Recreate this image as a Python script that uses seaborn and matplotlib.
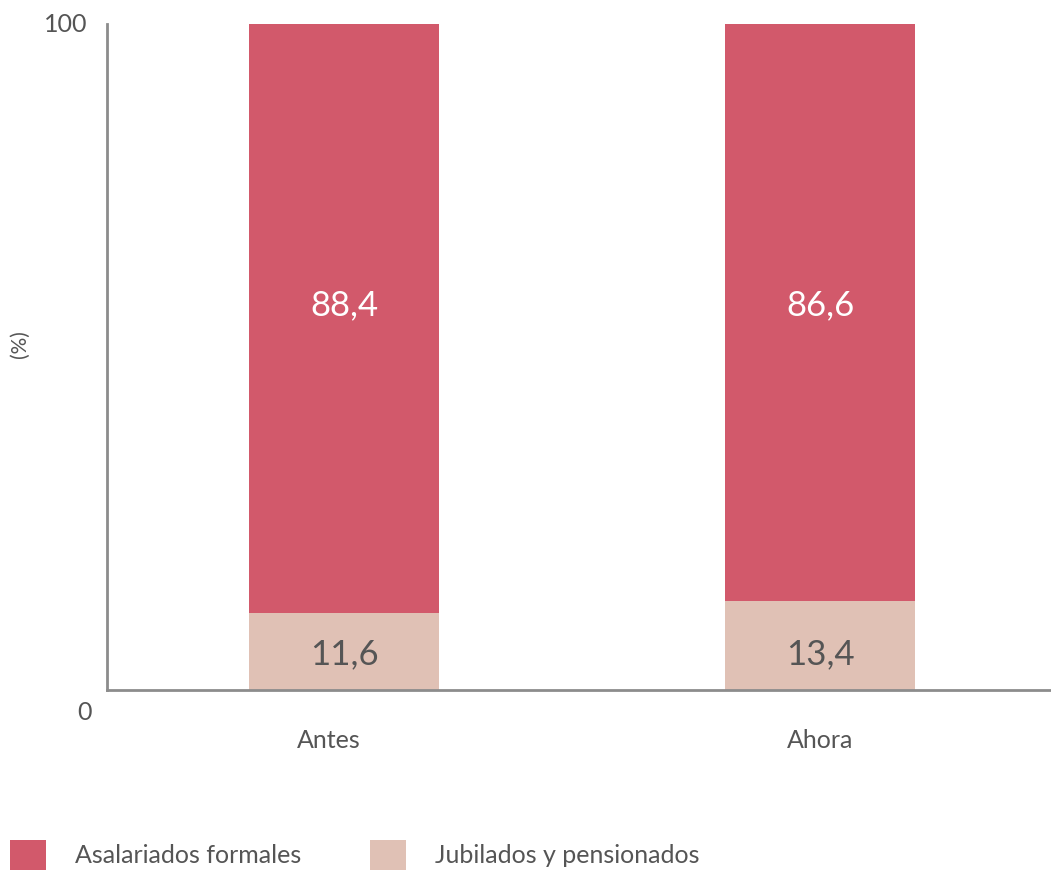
import matplotlib
matplotlib.use("Agg")
import matplotlib.pyplot as plt
import matplotlib.transforms as mtransforms
from matplotlib.patches import Patch
import seaborn as sns
import pandas as pd

categories = ["Antes", "Ahora"]
asalariados = [88.4, 86.6]
jubilados = [11.6, 13.4]
series_names = ["Asalariados formales", "Jubilados y pensionados"]
y_ticks = [0, 100]
y_label = "(%)"

RED = "#D2596B"
PINK = "#E0C1B5"
AXIS = "#8C8C8C"
TEXT = "#555555"

sns.set_theme(style="white")
plt.rcParams["font.family"] = ["Lato", "DejaVu Sans"]

fig = plt.figure(figsize=(10.51, 8.72), dpi=100)
ax = fig.add_axes([107 / 1051, 1 - 690 / 872, 1 - 107 / 1051, (690 - 24) / 872])

totals = [a + j for a, j in zip(asalariados, jubilados)]
df = pd.DataFrame({"cat": categories, "total": totals, "jub": jubilados})

sns.barplot(data=df, x="cat", y="total", color=RED, width=0.4, ax=ax, saturation=1, linewidth=0)
sns.barplot(data=df, x="cat", y="jub", color=PINK, width=0.4, ax=ax, saturation=1, linewidth=0)

ax.set_xlim(-0.498, 1.485)
ax.set_ylim(0, 100)

# labels sit at a common height in each layer
top_label_y = 57.7
low_label_y = 5.3
for i, (a, j) in enumerate(zip(asalariados, jubilados)):
    ax.text(i, top_label_y, f"{a:.1f}".replace(".", ","), ha="center", va="center",
            color="white", fontsize=25)
    ax.text(i, low_label_y, f"{j:.1f}".replace(".", ","), ha="center", va="center",
            color=TEXT, fontsize=25)

ax.set_yticks(y_ticks)
ax.set_yticklabels([str(t) for t in y_ticks])
ax.tick_params(axis="both", length=0, labelsize=18, colors=TEXT)
ax.tick_params(axis="y", pad=14)
ax.tick_params(axis="x", pad=28)
ylabels = ax.get_yticklabels()
ylabels[0].set_va("top")
ylabels[0].set_transform(ylabels[0].get_transform() +
                         mtransforms.ScaledTranslation(0.04, -0.11, fig.dpi_scale_trans))
ylabels[1].set_va("center")
xlabels = ax.get_xticklabels()
xlabels[0].set_transform(xlabels[0].get_transform() +
                         mtransforms.ScaledTranslation(-0.15, 0, fig.dpi_scale_trans))

ax.set_xlabel("")
ax.set_ylabel(y_label, fontsize=15, color=TEXT)
ax.yaxis.set_label_coords(-0.082, 0.52)

for s in ["top", "right"]:
    ax.spines[s].set_visible(False)
for s in ["left", "bottom"]:
    ax.spines[s].set_color(AXIS)
    ax.spines[s].set_linewidth(2)

handles = [Patch(facecolor=RED, edgecolor="none"), Patch(facecolor=PINK, edgecolor="none")]
fig.legend(handles, series_names, loc="lower left", bbox_to_anchor=(10 / 1051, 2 / 872),
           ncol=2, frameon=False, fontsize=18, labelcolor=TEXT,
           handlelength=1.45, handleheight=1.45, handletextpad=1.15, columnspacing=2.75,
           borderaxespad=0, borderpad=0)

fig.savefig("out.png", dpi=100)
